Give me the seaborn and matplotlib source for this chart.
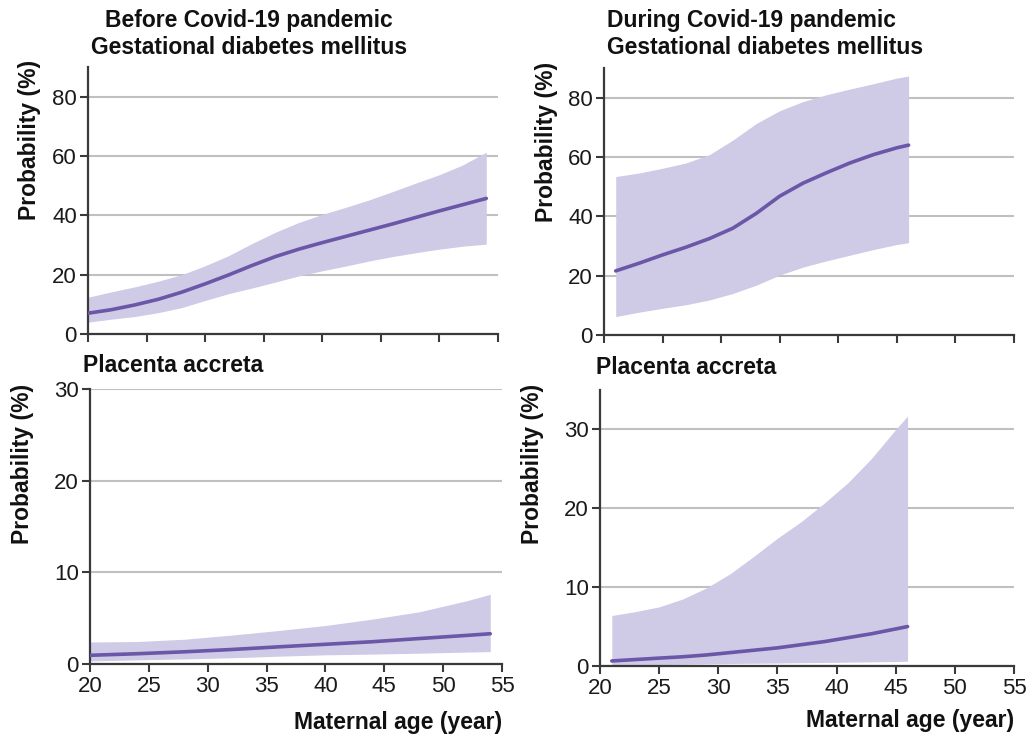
import numpy as np
import pandas as pd
import matplotlib
matplotlib.use("Agg")
import matplotlib.pyplot as plt
import seaborn as sns

W, H = 1032, 738
LINE_COLOR = "#6b56a8"
FILL_COLOR = "#cfcae5"
GRID_COLOR = "#c0c0c0"
SPINE_COLOR = "#3a3a3a"
FS = 16

# before covid, gestational diabetes
gdm_before_age = [20, 22, 24, 26, 28, 30, 32, 34, 36, 38, 40, 42, 44, 46, 48, 50, 52, 54]
gdm_before_mean = [7.0, 8.2, 9.8, 11.7, 14.1, 16.9, 19.9, 23.1, 26.1, 28.6, 30.8, 32.9, 35.0, 37.1, 39.3, 41.5, 43.6, 45.7]
gdm_before_hi = [12.4, 14.2, 15.9, 17.8, 20.0, 23.0, 26.4, 30.5, 34.3, 37.6, 40.3, 42.7, 45.2, 48.0, 50.9, 53.7, 57.0, 61.3]
gdm_before_lo = [4.0, 5.0, 5.9, 7.2, 8.9, 11.3, 13.6, 15.5, 17.5, 19.6, 21.3, 22.9, 24.6, 26.1, 27.4, 28.6, 29.6, 30.3]

# during covid, gestational diabetes
gdm_during_age = [21, 23, 25, 27, 29, 31, 33, 35, 37, 39, 41, 43, 45, 46]
gdm_during_mean = [21.6, 24.2, 27.0, 29.6, 32.5, 36.0, 41.0, 46.8, 51.2, 54.7, 58.0, 60.8, 63.1, 64.0]
gdm_during_hi = [53.4, 54.6, 56.2, 58.0, 60.8, 65.7, 71.3, 75.6, 78.7, 81.0, 82.9, 84.7, 86.6, 87.3]
gdm_during_lo = [6.2, 7.7, 9.0, 10.2, 11.8, 14.0, 16.8, 20.2, 22.9, 25.0, 26.9, 28.8, 30.5, 31.1]

# before covid, placenta accreta
pa_before_age = [20, 24, 28, 32, 36, 40, 44, 48, 52, 54]
pa_before_mean = [0.95, 1.12, 1.33, 1.58, 1.87, 2.15, 2.43, 2.78, 3.12, 3.3]
pa_before_hi = [2.4, 2.45, 2.7, 3.15, 3.65, 4.2, 4.9, 5.7, 6.9, 7.6]
pa_before_lo = [0.33, 0.45, 0.55, 0.68, 0.85, 1.0, 1.08, 1.18, 1.3, 1.35]

# during covid, placenta accreta
pa_during_age = [21, 23, 25, 27, 29, 31, 33, 35, 37, 39, 41, 43, 45, 46]
pa_during_mean = [0.64, 0.82, 1.0, 1.17, 1.4, 1.7, 2.0, 2.3, 2.7, 3.1, 3.6, 4.1, 4.7, 5.0]
pa_during_hi = [6.4, 6.9, 7.5, 8.5, 9.9, 11.7, 13.9, 16.2, 18.3, 20.7, 23.3, 26.4, 30.0, 31.7]
pa_during_lo = [0.08, 0.13, 0.17, 0.22, 0.27, 0.32, 0.35, 0.38, 0.42, 0.45, 0.49, 0.53, 0.57, 0.6]

sns.set_theme(style="white")
plt.rcParams["font.family"] = ["Liberation Sans", "DejaVu Sans"]

fig = plt.figure(figsize=(W / 100, H / 100), dpi=100)


def px_axes(left, right, top, bottom):
    return fig.add_axes([left / W, 1 - bottom / H, (right - left) / W, (bottom - top) / H])


def panel(ax, age, mean, lo, hi, ymax, yticks, show_xlabels):
    df = pd.DataFrame({"age": age, "mean": mean, "lo": lo, "hi": hi})
    ax.fill_between(df["age"], df["lo"], df["hi"], color=FILL_COLOR, lw=0, zorder=2)
    sns.lineplot(data=df, x="age", y="mean", ax=ax, color=LINE_COLOR, lw=2.6, zorder=3)
    ax.set_xlim(20, 55)
    ax.set_ylim(0, ymax)
    ax.set_xticks(range(20, 56, 5))
    ax.set_yticks(yticks)
    ax.yaxis.grid(True, color=GRID_COLOR, lw=1.5, zorder=1)
    ax.set_axisbelow(True)
    for s in ["top", "right"]:
        ax.spines[s].set_visible(False)
    for s in ["left", "bottom"]:
        ax.spines[s].set_color(SPINE_COLOR)
        ax.spines[s].set_linewidth(1.6)
    ax.tick_params(axis="both", direction="out", length=6, width=1.5, color=SPINE_COLOR,
                   labelsize=FS, labelcolor="#1a1a1a", pad=3)
    ax.tick_params(axis="y", left=True, pad=2)
    ax.tick_params(axis="x", bottom=True)
    if not show_xlabels:
        ax.set_xticklabels([])
    ax.set_xlabel("")
    ax.set_ylabel("")


ax1 = px_axes(88, 498, 67, 334)
panel(ax1, gdm_before_age, gdm_before_mean, gdm_before_lo, gdm_before_hi, 90, [0, 20, 40, 60, 80], False)
ax2 = px_axes(604, 1014, 68, 335)
panel(ax2, gdm_during_age, gdm_during_mean, gdm_during_lo, gdm_during_hi, 90, [0, 20, 40, 60, 80], False)
ax3 = px_axes(90, 502, 389, 664)
panel(ax3, pa_before_age, pa_before_mean, pa_before_lo, pa_before_hi, 30, [0, 10, 20, 30], True)
ax4 = px_axes(600, 1014, 390, 666)
panel(ax4, pa_during_age, pa_during_mean, pa_during_lo, pa_during_hi, 35, [0, 10, 20, 30], True)


def ftext(x, y, s, size=16.5, **kw):
    fig.text(x / W, 1 - y / H, s, fontsize=size, fontweight="bold", color="#111111", **kw)


ftext(249, 34, "Before Covid-19 pandemic\nGestational diabetes mellitus", ha="center", va="center",
      multialignment="center", linespacing=1.25)
ftext(607, 34, "During Covid-19 pandemic\nGestational diabetes mellitus", ha="left", va="center",
      linespacing=1.25)
ftext(83, 365, "Placenta accreta", ha="left", va="center")
ftext(596, 367, "Placenta accreta", ha="left", va="center")

ftext(30, 140, "Probability (%)", rotation=90, ha="center", va="center")
ftext(546, 142, "Probability (%)", rotation=90, ha="center", va="center")
ftext(23, 464, "Probability (%)", rotation=90, ha="center", va="center")
ftext(532, 464, "Probability (%)", rotation=90, ha="center", va="center")

ftext(502, 722, "Maternal age (year)", ha="right", va="center")
ftext(1014, 720, "Maternal age (year)", ha="right", va="center")

fig.savefig("out.png", dpi=100)
